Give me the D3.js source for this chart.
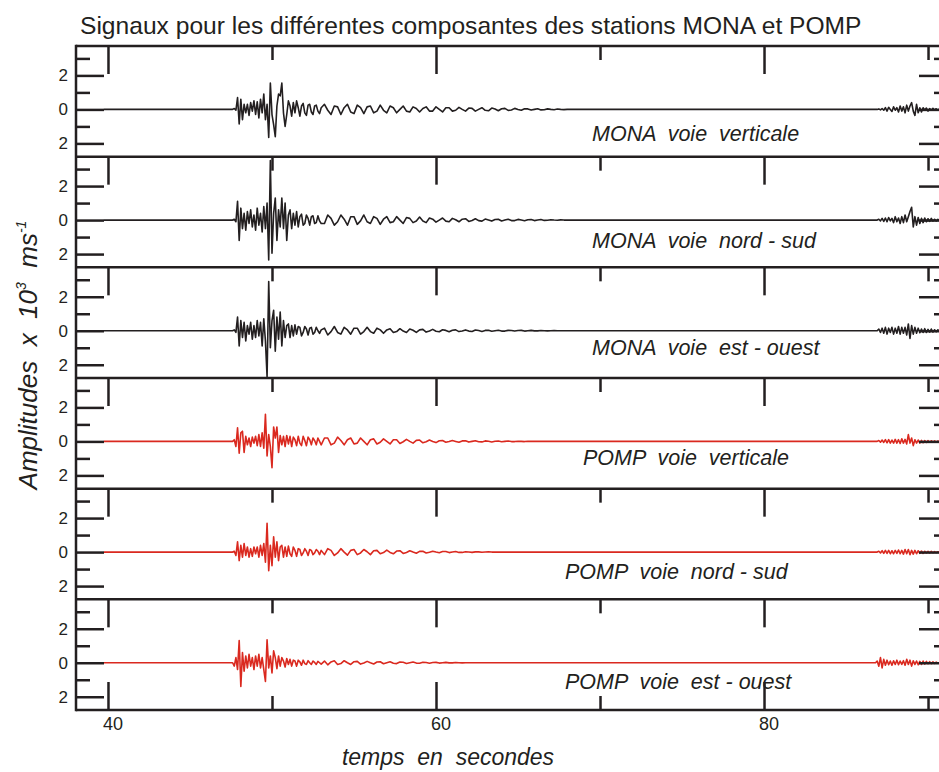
<!DOCTYPE html>
<html>
<head>
<meta charset="utf-8">
<script src="https://cdn.jsdelivr.net/npm/d3@7/dist/d3.min.js"></script>
<style>
  html, body { margin: 0; padding: 0; background: #fff; }
  svg { display: block; }
  text { font-family: "Liberation Sans", Arial, sans-serif; fill: #231f20; }
</style>
</head>
<body>
<svg id="chart" width="939" height="772"></svg>
<script>
// ---- Data -------------------------------------------------------------
const titleText = "Signaux pour les différentes composantes des stations MONA et POMP";
const yAxisTitle = ["Amplitudes  x  10", "3", "  ms", "-1"];
const xAxisTitle = "temps  en  secondes";

const traceNames = [
  "MONA  voie  verticale",
  "MONA  voie  nord - sud",
  "MONA  voie  est - ouest",
  "POMP  voie  verticale",
  "POMP  voie  nord - sud",
  "POMP  voie  est - ouest"
];
const stationOfTrace = ["MONA", "MONA", "MONA", "POMP", "POMP", "POMP"];

const xMajorTicks = [40, 60, 80];
const xMinorTicks = [50, 70, 90];
const yMajorTicks = [-2, 0, 2];
const yMinorTicks = [-1, 1, 3];

// Recording span and sampling of the three windows (seconds)
const recordStart = 39.75, recordEnd = 90.7;
const windowA = { start: 47.6, step: 0.1 };   // P/S arrivals
const windowB = { start: 53.2, step: 0.2 };   // coda
const windowC = { start: 86.4, step: 0.1 };   // late arrival

// Amplitudes (x 10^3 m/s) per trace, window A
const monaZ_A = [0,0.05,-0.05,0.7,-0.85,0.6,-0.6,0.3,-0.2,0.3,-0.35,0.4,-0.1,0.5,-0.3,0.45,-0.5,0.6,-0.2,0.9,-0.6,0.3,-1.65,1.55,-0.3,-0.9,-1.6,0.2,0.9,0.8,1.55,-0.2,-1.0,-0.3,0.5,0.2,-0.4,0.4,-0.2,0.5,0.1,-0.4,0.2,0.35,-0.2,-0.35,0.25,0.3,-0.15,-0.3,0.2,0.25,-0.1,-0.25,0.1];
const monaN_A = [0,0.05,-0.1,1.1,-1.2,0.7,-0.5,0.4,-0.6,0.5,-0.2,0.6,-0.4,0.3,-0.6,0.7,-0.3,0.4,-0.7,0.8,-0.5,1.0,-2.35,3.5,-1.95,0.4,1.3,-1.2,0.6,-0.4,1.3,-0.5,1.0,-1.2,0.3,0.6,-0.5,0.4,-0.3,0.5,-0.4,0.2,0.35,-0.3,-0.2,0.3,0.1,-0.3,0.2,0.25,-0.2,-0.15,0.25,-0.05,-0.2];
const monaE_A = [0,0.05,-0.1,0.8,-0.9,0.6,-0.4,0.5,-0.6,0.3,-0.2,0.5,-0.5,0.3,-0.4,0.6,-0.3,0.5,-0.9,0.7,-0.6,-2.7,2.9,-1.0,0.6,1.2,-1.2,0.8,-0.5,1.1,-0.9,0.6,-0.4,0.3,0.4,-0.4,0.3,-0.3,0.35,-0.2,0.25,0.2,-0.3,-0.1,0.25,0.1,-0.25,0.15,0.2,-0.2,-0.1,0.2,0,-0.15,0.05];
const pompZ_A = [0,0.1,-0.3,0.8,-0.7,0.5,0.6,-0.65,0.3,-0.2,0.2,-0.3,0.25,-0.1,0.3,-0.25,0.4,-0.3,0.5,-0.4,1.6,-0.85,0.4,-0.3,-1.55,0.85,0.2,0.85,-0.65,0.35,-0.2,0.3,-0.3,0.35,-0.15,0.3,-0.3,0.25,0.1,-0.25,0.3,-0.1,-0.25,0.3,0.05,-0.25,0.25,0.1,-0.2,0.2,0.05,-0.2,0.2,0,-0.2];
const pompN_A = [0,0.05,-0.2,0.6,-0.5,0.4,-0.3,0.5,-0.2,0.3,-0.3,0.2,-0.25,0.3,-0.1,0.3,-0.3,0.4,-0.2,0.5,-0.6,1.7,-1.1,0.4,-0.8,0.9,-0.3,0.6,-0.5,0.3,0.4,-0.3,0.3,-0.25,0.35,-0.1,-0.25,0.3,0.1,-0.25,0.2,0.15,-0.2,-0.05,0.2,0.05,-0.2,0.15,0.1,-0.15,-0.05,0.15,0.05,-0.15,0.1];
const pompE_A = [0,-0.2,0.3,-0.4,1.3,-1.4,0.6,-0.5,0.4,-0.3,0.5,-0.2,0.3,-0.4,0.4,-0.2,0.5,-0.3,0.3,-0.4,-1.1,1.35,-0.3,0.4,-0.6,0.7,0.3,-0.35,0.4,-0.2,0.3,0.1,-0.25,0.25,-0.1,0.2,-0.2,0.15,0.1,-0.2,0.15,0.05,-0.15,0.15,-0.05,-0.1,0.12,0,-0.1,0.1,0.02,-0.1,0.08,0,-0.08];

// window B (coda)
const monaZ_B = [0.3,-0.05,-0.3,0.2,0.15,-0.3,0.1,0.3,-0.15,-0.25,0.25,0.1,-0.25,0.15,0.2,-0.2,-0.1,0.25,-0.05,-0.2,0.2,0.1,-0.2,0,0.2,-0.1,-0.15,0.15,0.05,-0.15,0.05,0.15,-0.1,-0.1,0.15,0,-0.15,0.1,0.1,-0.1,-0.05,0.12,0,-0.1,0.08,0.06,-0.1,0,0.1,-0.05,-0.08,0.08,0.02,-0.08,0.04,0.06,-0.06,-0.03,0.06,0,-0.05,0.04,0.03,-0.04,0,0.04,-0.03,-0.02,0.03,0,-0.02,0.02,0,-0.01,0];
const monaN_B = [-0.2,0.3,0.1,-0.3,-0.1,0.3,0.05,-0.3,0.2,0.2,-0.25,-0.05,0.3,-0.1,-0.2,0.2,0.1,-0.25,0.05,0.2,-0.15,-0.1,0.2,0,-0.2,0.15,0.1,-0.15,-0.05,0.18,-0.05,-0.15,0.12,0.05,-0.12,0,0.12,-0.06,-0.1,0.1,0.02,-0.1,0.05,0.08,-0.08,-0.02,0.08,-0.03,-0.06,0.06,0.01,-0.06,0.03,0.05,-0.05,0,0.05,-0.03,-0.03,0.04,0,-0.04,0.02,0.03,-0.03,0,0.03,-0.02,-0.01,0.02,0,-0.01,0.01,0,0];
const monaE_B = [0.15,-0.25,-0.05,0.25,-0.1,-0.2,0.2,0.05,-0.2,0.15,0.15,-0.2,-0.05,0.2,-0.05,-0.15,0.15,0.05,-0.15,0.05,0.12,-0.1,-0.05,0.12,-0.02,-0.1,0.1,0.03,-0.1,0.05,0.08,-0.08,-0.02,0.08,-0.03,-0.06,0.06,0.02,-0.06,0.03,0.05,-0.05,-0.01,0.05,-0.02,-0.04,0.04,0.01,-0.04,0.02,0.03,-0.03,0,0.03,-0.02,-0.02,0.02,0.01,-0.02,0.01,0.02,-0.02,0,0.02,-0.01,-0.01,0.01,0,-0.01,0,0.01,0,0,0,0];
const pompZ_B = [0.2,0.2,-0.2,-0.1,0.25,0.05,-0.2,0.1,0.2,-0.15,-0.1,0.2,0,-0.2,0.1,0.15,-0.15,-0.05,0.15,0,-0.15,0.1,0.1,-0.12,-0.02,0.12,0,-0.1,0.06,0.08,-0.08,-0.02,0.08,0,-0.07,0.04,0.05,-0.05,-0.01,0.05,0,-0.05,0.03,0.04,-0.04,0,0.04,-0.02,-0.03,0.03,0.01,-0.03,0.01,0.02,-0.02,0,0.02,-0.01,-0.01,0.01,0,-0.01,0.01,0,0];
const pompN_B = [-0.15,0.2,0.1,-0.2,-0.05,0.2,0,-0.18,0.1,0.15,-0.15,-0.05,0.15,0.02,-0.15,0.08,0.1,-0.1,-0.03,0.12,-0.02,-0.1,0.06,0.08,-0.08,-0.02,0.08,0,-0.07,0.04,0.05,-0.05,-0.01,0.05,0,-0.04,0.03,0.03,-0.03,0,0.03,-0.02,-0.02,0.02,0,-0.02,0.01,0.01,-0.01,0,0.01,0,0,0];
const pompE_B = [0.1,-0.12,0.05,0.12,-0.1,-0.05,0.12,0,-0.1,0.06,0.08,-0.08,-0.02,0.08,0,-0.07,0.04,0.06,-0.06,0,0.06,-0.03,-0.05,0.04,0.03,-0.04,0,0.04,-0.02,-0.03,0.03,0.01,-0.03,0.01,0.02,-0.02,0,0.02,-0.01,-0.01,0.01,0,-0.01,0,0];

// window C (late arrival)
const monaZ_C = [0,0,0,0,0,0,0.03,-0.03,0.05,-0.05,0.1,-0.1,0.12,0,-0.12,0.15,-0.05,0.1,-0.15,0.2,-0.1,0.15,-0.2,0.25,-0.1,0.2,0.4,-0.1,-0.35,0.3,-0.2,0.1,-0.15,0.1,-0.05,0.08,-0.1,0.05,-0.05,0.06,-0.04,0.04,-0.05,0.03];
const monaN_C = [0,0,0,0,0,0,0.05,-0.05,0.1,-0.08,0.12,-0.1,0.15,-0.05,0.1,-0.15,0.2,-0.1,0.12,-0.2,0.2,-0.15,0.3,-0.1,0.2,0.5,0.75,-0.4,0.2,-0.3,0.15,-0.2,0.1,-0.15,0.12,-0.1,0.08,-0.08,0.1,-0.06,0.05,-0.05,0.04,0];
const monaE_C = [0,0,0,0,0,0,0.1,-0.1,0.15,-0.15,0.2,-0.2,0.15,-0.1,0.2,-0.2,0.15,-0.15,0.25,-0.2,0.2,-0.15,0.2,-0.25,0.4,-0.45,0.3,-0.2,0.2,-0.15,0.15,-0.12,0.1,-0.1,0.12,-0.1,0.08,-0.08,0.1,-0.08,0.06,-0.06,0.05,0];
const pompZ_C = [0,0,0,0,0,0,0.05,-0.05,0.08,-0.06,0.1,-0.08,0.1,-0.1,0.08,-0.1,0.12,-0.1,0.1,-0.12,0.15,-0.1,0.12,-0.15,0.4,-0.1,0.2,-0.25,0.1,-0.1,0.08,-0.1,0.06,-0.08,0.05,-0.06,0.05,-0.05,0.04,-0.04,0.03,-0.03,0.02,0];
const pompN_C = [0,0,0,0,0,0,0.05,-0.05,0.08,-0.08,0.1,-0.08,0.1,-0.1,0.08,-0.1,0.1,-0.08,0.12,-0.1,0.1,-0.12,0.15,-0.1,0.15,-0.15,0.1,-0.12,0.1,-0.1,0.08,-0.08,0.06,-0.08,0.05,-0.05,0.05,-0.05,0.04,-0.04,0.03,-0.03,0.02,0];
const pompE_C = [0,0,0,0,0,0.1,-0.2,0.3,-0.3,0.2,-0.15,0.15,-0.12,0.1,-0.15,0.12,-0.1,0.15,-0.12,0.1,-0.1,0.12,-0.15,0.2,-0.1,0.15,-0.2,0.12,-0.1,0.1,-0.12,0.08,-0.1,0.1,-0.08,0.08,-0.06,0.06,-0.05,0.05,-0.04,0.04,-0.03,0];

const traceWindows = [
  [monaZ_A, monaZ_B, monaZ_C],
  [monaN_A, monaN_B, monaN_C],
  [monaE_A, monaE_B, monaE_C],
  [pompZ_A, pompZ_B, pompZ_C],
  [pompN_A, pompN_B, pompN_C],
  [pompE_A, pompE_B, pompE_C]
];

// ---- Layout -----------------------------------------------------------
const svg = d3.select("#chart");
const plotLeft = 76, plotRight = 940, plotTop = 46, plotBottom = 710;
const nPanels = traceNames.length;
const panelH = (plotBottom - plotTop) / nPanels;
const ink = "#231f20";
const stationColor = { MONA: "#231f20", POMP: "#da291f" };
// caption baseline below the zero line, and its left edge
const captionLayout = [
  { x: 592, dy: 32 }, { x: 592, dy: 28 }, { x: 592, dy: 24 },
  { x: 583, dy: 24 }, { x: 565, dy: 27 }, { x: 565, dy: 26 }
];

const x = d3.scaleLinear().domain([38.05, 90.73]).range([plotLeft, plotRight]);

function toSeries(wins) {
  const pts = [[recordStart, 0]];
  [windowA, windowB, windowC].forEach((w, k) => {
    wins[k].forEach((v, i) => pts.push([w.start + i * w.step, v]));
  });
  pts.push([recordEnd, 0]);
  return pts.filter(p => p[0] <= recordEnd).sort((a, b) => a[0] - b[0]);
}

svg.append("defs").append("clipPath").attr("id", "plotClip")
  .append("rect").attr("x", plotLeft).attr("y", plotTop)
  .attr("width", plotRight - plotLeft).attr("height", plotBottom - plotTop);

// Title
svg.append("text").attr("x", 80).attr("y", 34)
  .style("font-size", "24.6px").text(titleText);

function styleAxis(g, width) {
  g.select(".domain").remove();
  g.selectAll(".tick line").attr("stroke", ink).attr("stroke-width", width);
}

for (let p = 0; p < nPanels; p++) {
  const top = plotTop + p * panelH;
  const bottom = top + panelH;
  const y = d3.scaleLinear().domain([-2.78, 3.73]).range([bottom, top]);
  const line = d3.line().x(d => x(d[0])).y(d => y(d[1]));
  const series = toSeries(traceWindows[p]);

  svg.append("path").datum(series)
    .attr("clip-path", "url(#plotClip)")
    .attr("fill", "none")
    .attr("stroke", stationColor[stationOfTrace[p]])
    .attr("stroke-width", 1.6)
    .attr("stroke-linejoin", "round")
    .attr("d", line);

  // left y axis
  const gl = svg.append("g").attr("transform", `translate(${plotLeft},0)`)
    .call(d3.axisLeft(y).tickValues(yMajorTicks).tickSize(-28).tickPadding(8)
      .tickFormat(d => Math.abs(d)));
  styleAxis(gl, 2.5);
  gl.selectAll("text").style("font-size", "17px").attr("fill", ink);
  const glm = svg.append("g").attr("transform", `translate(${plotLeft},0)`)
    .call(d3.axisLeft(y).tickValues(yMinorTicks).tickSize(-14).tickFormat(""));
  styleAxis(glm, 2.5);

  // right y axis
  const gr = svg.append("g").attr("transform", `translate(${plotRight},0)`)
    .call(d3.axisRight(y).tickValues(yMajorTicks).tickSize(-21).tickFormat(""));
  styleAxis(gr, 2.5);
  const grm = svg.append("g").attr("transform", `translate(${plotRight},0)`)
    .call(d3.axisRight(y).tickValues(yMinorTicks).tickSize(-6).tickFormat(""));
  styleAxis(grm, 2.5);

  // time ticks hanging from the top of each panel
  const gt = svg.append("g").attr("transform", `translate(0,${top})`)
    .call(d3.axisTop(x).tickValues(xMajorTicks).tickSize(-28).tickFormat(""));
  styleAxis(gt, 2.5);
  const gtm = svg.append("g").attr("transform", `translate(0,${top})`)
    .call(d3.axisTop(x).tickValues(xMinorTicks).tickSize(-14).tickFormat(""));
  styleAxis(gtm, 2.5);

  // panel frame line
  svg.append("line").attr("x1", plotLeft).attr("x2", plotRight)
    .attr("y1", top).attr("y2", top).attr("stroke", ink).attr("stroke-width", 2.5);

  // caption
  svg.append("text")
    .attr("x", captionLayout[p].x).attr("y", y(0) + captionLayout[p].dy)
    .attr("xml:space", "preserve").style("white-space", "pre")
    .style("font-size", "21.5px").style("font-style", "italic")
    .text(traceNames[p]);

  if (p === nPanels - 1) {
    const gb = svg.append("g").attr("transform", `translate(0,${bottom})`)
      .call(d3.axisBottom(x).tickValues(xMajorTicks).tickSize(-28).tickPadding(7));
    styleAxis(gb, 2.5);
    gb.selectAll("text").style("font-size", "18px").attr("fill", ink).attr("dx", 4.5);
    const gbm = svg.append("g").attr("transform", `translate(0,${bottom})`)
      .call(d3.axisBottom(x).tickValues(xMinorTicks).tickSize(-14).tickFormat(""));
    styleAxis(gbm, 2.5);
    svg.append("line").attr("x1", plotLeft).attr("x2", plotRight)
      .attr("y1", bottom).attr("y2", bottom).attr("stroke", ink).attr("stroke-width", 2.5);
  }
}

// left frame line
svg.append("line").attr("x1", plotLeft).attr("x2", plotLeft)
  .attr("y1", plotTop - 1.25).attr("y2", plotBottom + 1.25)
  .attr("stroke", ink).attr("stroke-width", 2.5);

// y axis title
const yt = svg.append("text")
  .attr("transform", "translate(37,355) rotate(-90)")
  .attr("text-anchor", "middle")
  .attr("xml:space", "preserve").style("white-space", "pre")
  .style("font-size", "26px").style("font-style", "italic");
yt.append("tspan").text(yAxisTitle[0]);
yt.append("tspan").attr("dy", -11).style("font-size", "14px").text(yAxisTitle[1]);
yt.append("tspan").attr("dy", 11).text(yAxisTitle[2]);
yt.append("tspan").attr("dy", -11).style("font-size", "14px").text(yAxisTitle[3]);

// x axis title
svg.append("text").attr("x", 448).attr("y", 765)
  .attr("text-anchor", "middle")
  .attr("xml:space", "preserve").style("white-space", "pre")
  .style("font-size", "23px").style("font-style", "italic")
  .text(xAxisTitle);
</script>
</body>
</html>
